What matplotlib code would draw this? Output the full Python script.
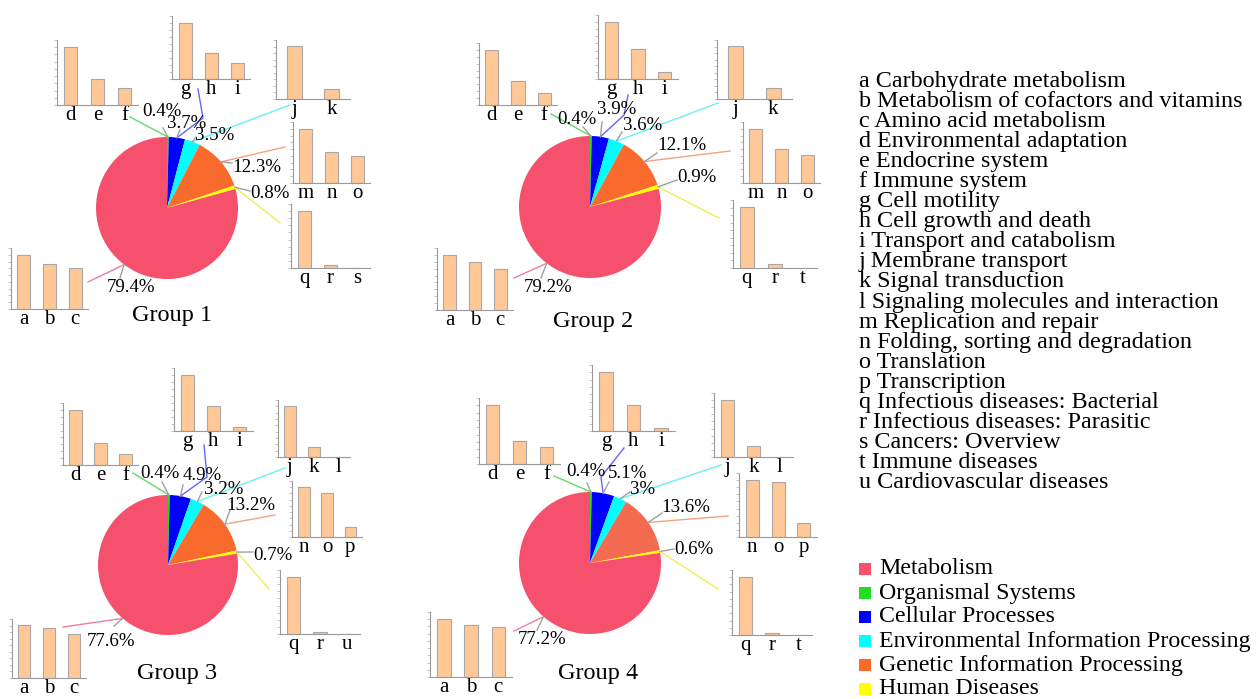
import numpy as np
import matplotlib.pyplot as plt
from matplotlib.patches import Rectangle

W, H = 1257, 699
plt.rcParams['font.family'] = ['Liberation Serif', 'DejaVu Serif']

# top-level KEGG categories (legend order)
categories = ['Metabolism', 'Organismal Systems', 'Cellular Processes',
              'Environmental Information Processing',
              'Genetic Information Processing', 'Human Diseases']
cat_colors = ['#F5506C', '#22DD22', '#0000FF', '#00FFFF', '#F96B2D', '#FFFF00']
link_colors = ['#F0809A', '#66D866', '#6666F5', '#66F2F2', '#F3A282', '#EEEE55']

groups = ['Group 1', 'Group 2', 'Group 3', 'Group 4']

share_g1 = [79.4, 0.4, 3.7, 3.5, 12.3, 0.8]
share_g2 = [79.2, 0.4, 3.9, 3.6, 12.1, 0.9]
share_g3 = [77.6, 0.4, 4.9, 3.2, 13.2, 0.7]
share_g4 = [77.2, 0.4, 5.1, 3.0, 13.6, 0.6]

# level-2 pathways, one small bar chart per category
sub_labels_g1 = [['a', 'b', 'c'], ['d', 'e', 'f'], ['g', 'h', 'i'], ['j', 'k'], ['m', 'n', 'o'], ['q', 'r', 's']]
sub_labels_g2 = [['a', 'b', 'c'], ['d', 'e', 'f'], ['g', 'h', 'i'], ['j', 'k'], ['m', 'n', 'o'], ['q', 'r', 't']]
sub_labels_g3 = [['a', 'b', 'c'], ['d', 'e', 'f'], ['g', 'h', 'i'], ['j', 'k', 'l'], ['n', 'o', 'p'], ['q', 'r', 'u']]
sub_labels_g4 = [['a', 'b', 'c'], ['d', 'e', 'f'], ['g', 'h', 'i'], ['j', 'k', 'l'], ['n', 'o', 'p'], ['q', 'r', 't']]

sub_values_g1 = [[56, 46, 42], [57, 26, 17], [55, 25, 16], [52, 10], [52, 30, 26], [58, 3, 0.5]]
sub_values_g2 = [[55, 48, 41], [55, 24, 12], [58, 30, 7], [51, 11], [54, 34, 28], [59, 4, 0.3]]
sub_values_g3 = [[51, 48, 43], [56, 22, 11], [55, 24, 4], [52, 10, 0.3], [51, 45, 10], [57, 2, 0.2]]
sub_values_g4 = [[59, 53, 51], [60, 23, 17], [58, 26, 3], [57, 11, 0.3], [57, 55, 14], [56, 2, 0.2]]

pathway_names = ['Carbohydrate metabolism', 'Metabolism of cofactors and vitamins',
                 'Amino acid metabolism', 'Environmental adaptation', 'Endocrine system',
                 'Immune system', 'Cell motility', 'Cell growth and death',
                 'Transport and catabolism', 'Membrane transport', 'Signal transduction',
                 'Signaling molecules and interaction', 'Replication and repair',
                 'Folding, sorting and degradation', 'Translation', 'Transcription',
                 'Infectious diseases: Bacterial', 'Infectious diseases: Parasitic',
                 'Cancers: Overview', 'Immune diseases', 'Cardiovascular diseases']
pathway_letters = list('abcdefghijklmnopqrstu')

shares = [share_g1, share_g2, share_g3, share_g4]
sub_labels = [sub_labels_g1, sub_labels_g2, sub_labels_g3, sub_labels_g4]
sub_values = [sub_values_g1, sub_values_g2, sub_values_g3, sub_values_g4]

# panel placement in pixels (x0, top, x1, bottom) for insets, category order
layout = [
    dict(center=(167, 208), r=71, title=(172, 316),
         insets=[(11, 248, 88, 309), (57, 40, 138, 105), (172, 16, 250, 79),
                 (276, 40, 350, 99), (293, 122, 370, 183), (291, 204, 370, 268)],
         text=[(131, 288), (162, 111), (187, 124), (215, 136), (257, 168), (270, 193)],
         gray=[(120, 278), (163, 128), (180, 130), (196, 137), (232, 163), (250, 191)],
         link=[[(88, 282)], [(130, 117)], [(203, 118), (198, 89)], [(290, 105)],
               [(285, 147)], [(280, 223)]]),
    dict(center=(590, 207), r=71, title=(593, 322),
         insets=[(437, 248, 513, 310), (479, 43, 557, 105), (598, 15, 678, 79),
                 (717, 40, 792, 99), (743, 122, 820, 183), (733, 200, 817, 268)],
         text=[(548, 287), (577, 119), (617, 110), (643, 126), (682, 146), (697, 177)],
         gray=[(541, 278), (583, 127), (602, 122), (622, 132), (657, 153), (677, 180)],
         link=[[(514, 278)], [(551, 114)], [(624, 115), (628, 95)], [(718, 103)],
               [(730, 151)], [(719, 218)]]),
    dict(center=(168, 565), r=70, title=(177, 674),
         insets=[(12, 619, 86, 678), (63, 403, 138, 465), (174, 368, 253, 431),
                 (278, 400, 350, 457), (292, 481, 362, 537), (280, 570, 360, 634)],
         text=[(111, 642), (160, 474), (202, 476), (224, 490), (251, 505), (273, 556)],
         gray=[(114, 626), (162, 482), (183, 485), (202, 492), (230, 510), (253, 552)],
         link=[[(63, 627)], [(133, 473)], [(207, 477), (204, 445)], [(285, 468)],
               [(275, 515)], [(269, 589)]]),
    dict(center=(590, 563), r=71, title=(598, 673),
         insets=[(430, 612, 512, 677), (479, 398, 560, 464), (592, 365, 675, 431),
                 (714, 393, 793, 457), (739, 473, 817, 537), (732, 570, 812, 635)],
         text=[(542, 639), (586, 472), (628, 473), (643, 490), (686, 507), (694, 549)],
         gray=[(537, 630), (587, 483), (609, 482), (630, 492), (662, 513), (674, 549)],
         link=[[(514, 631)], [(554, 476)], [(601, 477), (624, 448)], [(721, 465)],
               [(728, 516)], [(718, 589)]]),
]


def px_axes(fig, x0, top, x1, bottom):
    return fig.add_axes([x0 / W, 1 - bottom / H, (x1 - x0) / W, (bottom - top) / H])


def bar_inset(fig, rect, labels, values):
    ax = px_axes(fig, *rect)
    n = len(values)
    ax.bar(np.arange(n), values, width=0.5 if n > 2 else 0.4,
           color='#FFC896', edgecolor='#A8A8A8', linewidth=0.8)
    ymax = max(values) * 1.12
    ax.set_xlim(-0.5, n - 0.5)
    ax.set_ylim(0, ymax)
    ax.set_xticks(np.arange(n))
    ax.set_xticklabels(labels, fontsize=15)
    ax.set_yticks(np.linspace(0, ymax, 10))
    ax.set_yticklabels([])
    ax.tick_params(axis='x', length=0, pad=1)
    ax.tick_params(axis='y', length=2, width=0.5, color='#AAAAAA')
    for s in ['top', 'right']:
        ax.spines[s].set_visible(False)
    for s in ['left', 'bottom']:
        ax.spines[s].set_color('#999999')
        ax.spines[s].set_linewidth(0.8)
    ax.patch.set_alpha(0)


fig = plt.figure(figsize=(W / 100, H / 100), dpi=100)

# draw order clockwise from 12 o'clock: Organismal ... Human, then Metabolism
order = [1, 2, 3, 4, 5, 0]

for gi, (name, share, lay) in enumerate(zip(groups, shares, layout)):
    cx, cy = lay['center']
    r = lay['r']
    s = 1.25 * r
    pax = px_axes(fig, cx - s, cy - s, cx + s, cy + s)
    cols = list(cat_colors)
    if gi == 3:
        cols[4] = '#F36B50'
    pax.pie([share[i] for i in order], colors=[cols[i] for i in order],
            startangle=90, counterclock=False, radius=1,
            wedgeprops=dict(linewidth=0))
    pax.set_xlim(-1.25, 1.25)
    pax.set_ylim(-1.25, 1.25)

    for k in range(6):
        bar_inset(fig, lay['insets'][k], sub_labels[gi][k], sub_values[gi][k])

lay_ax = fig.add_axes([0, 0, 1, 1])
lay_ax.set_xlim(0, W)
lay_ax.set_ylim(H, 0)
lay_ax.axis('off')

for gi, (name, share, lay) in enumerate(zip(groups, shares, layout)):
    cx, cy = lay['center']
    r = lay['r']
    total = sum(share)
    # mid-angle of each wedge
    mids = {}
    acc = 0.0
    for i in order:
        mids[i] = 90 - 360 * (acc + share[i] / 2) / total
        acc += share[i]
    for i in range(6):
        th = np.deg2rad(mids[i])
        ex, ey = cx + r * np.cos(th), cy - r * np.sin(th)
        pts = [(ex, ey)] + lay['link'][i]
        lay_ax.plot([p[0] for p in pts], [p[1] for p in pts],
                    color=link_colors[i], lw=1.0)
        gx, gy = lay['gray'][i]
        lay_ax.plot([ex, gx], [ey, gy], color='#A0A0A0', lw=1.0)
        tx, ty = lay['text'][i]
        lay_ax.text(tx, ty, f'{share[i]:g}%', fontsize=13.6,
                    ha='center', va='center')
    lay_ax.text(*lay['title'], name, fontsize=17.5, ha='center', va='center')

# pathway key
for j, (let, nm) in enumerate(zip(pathway_letters, pathway_names)):
    lay_ax.text(859, 81 + j * 20.1, f'{let} {nm}', fontsize=17.4,
                ha='left', va='center')

# category legend
for j, (nm, col) in enumerate(zip(categories, cat_colors)):
    y = 569 + j * 24
    lay_ax.add_patch(Rectangle((859, y - 6), 12, 12, color=col, lw=0))
    lay_ax.text(879, y, nm, fontsize=17.2, ha='left', va='center')

fig.savefig('out.png', dpi=100)
